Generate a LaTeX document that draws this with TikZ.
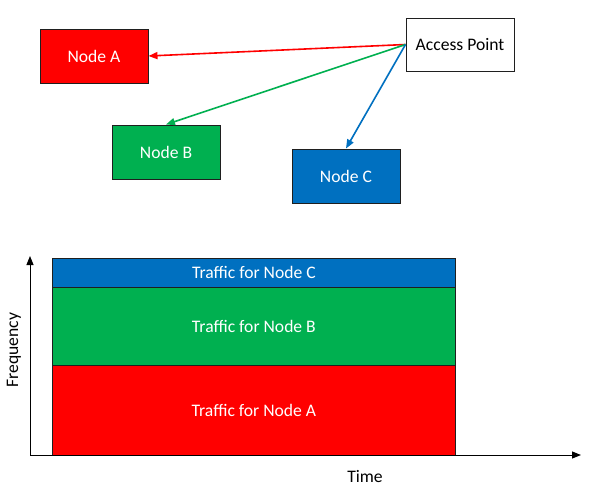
\documentclass[tikz,border=0pt]{standalone}
\usepackage{fontspec}
\setmainfont{Carlito}
\usetikzlibrary{arrows.meta}
\definecolor{cred}{HTML}{FF0000}
\definecolor{cgreen}{HTML}{00B050}
\definecolor{cblue}{HTML}{0070C0}
\definecolor{edge}{HTML}{1F1F1F}
\begin{document}
\begin{tikzpicture}[x=1pt,y=-1pt,
  box/.style={draw=edge,line width=1pt,minimum width=108pt,minimum height=54pt,inner sep=0pt,
    font=\fontsize{17.6}{20}\selectfont},
  band/.style={draw=edge,line width=0.8pt,anchor=north west,minimum width=403pt,inner sep=0pt,
    text=white,font=\fontsize{17.6}{20}\selectfont},
  link/.style={line width=1.6pt,-{Triangle[length=9pt,width=7pt]}},
  axis/.style={line width=1pt,-{Triangle[length=9pt,width=7pt]}},
  lbl/.style={font=\fontsize{17.6}{20}\selectfont,inner sep=0pt}]
\useasboundingbox (0,0) rectangle (595,496);
\fill[white] (0,0) rectangle (595,496);
% top nodes
\node[box,fill=cred,text=white] (A) at (94,56) {Node A};
\node[box,fill=cgreen,text=white] (B) at (166,152) {Node B};
\node[box,fill=cblue,text=white] (C) at (346,176) {Node C};
\node[box,fill=white,text=black,minimum height=53pt] (AP) at (460,44.5) {Access Point};
\draw[link,draw=cred] (AP.west) -- (A.east);
\draw[link,draw=cgreen] (AP.west) -- (B.north);
\draw[link,draw=cblue] (AP.west) -- (C.north);
% bands
\node[band,fill=cblue,minimum height=29pt] (TC) at (52,258) {Traffic for Node C};
\node[band,fill=cgreen,minimum height=78pt] (TB) at (52,287) {Traffic for Node B};
\node[band,fill=cred,minimum height=90pt] (TA) at (52,365) {Traffic for Node A};
% axes
\coordinate (O) at (30,455);
\coordinate (Ytop) at (30,256);
\coordinate (Xend) at (581,455);
\draw[axis] (O) -- (Ytop);
\draw[axis] (O) -- (Xend);
\node[lbl,rotate=90] (F) at (14,350) {Frequency};
\node[lbl] (T) at (365,476) {Time};
\end{tikzpicture}
\end{document}
